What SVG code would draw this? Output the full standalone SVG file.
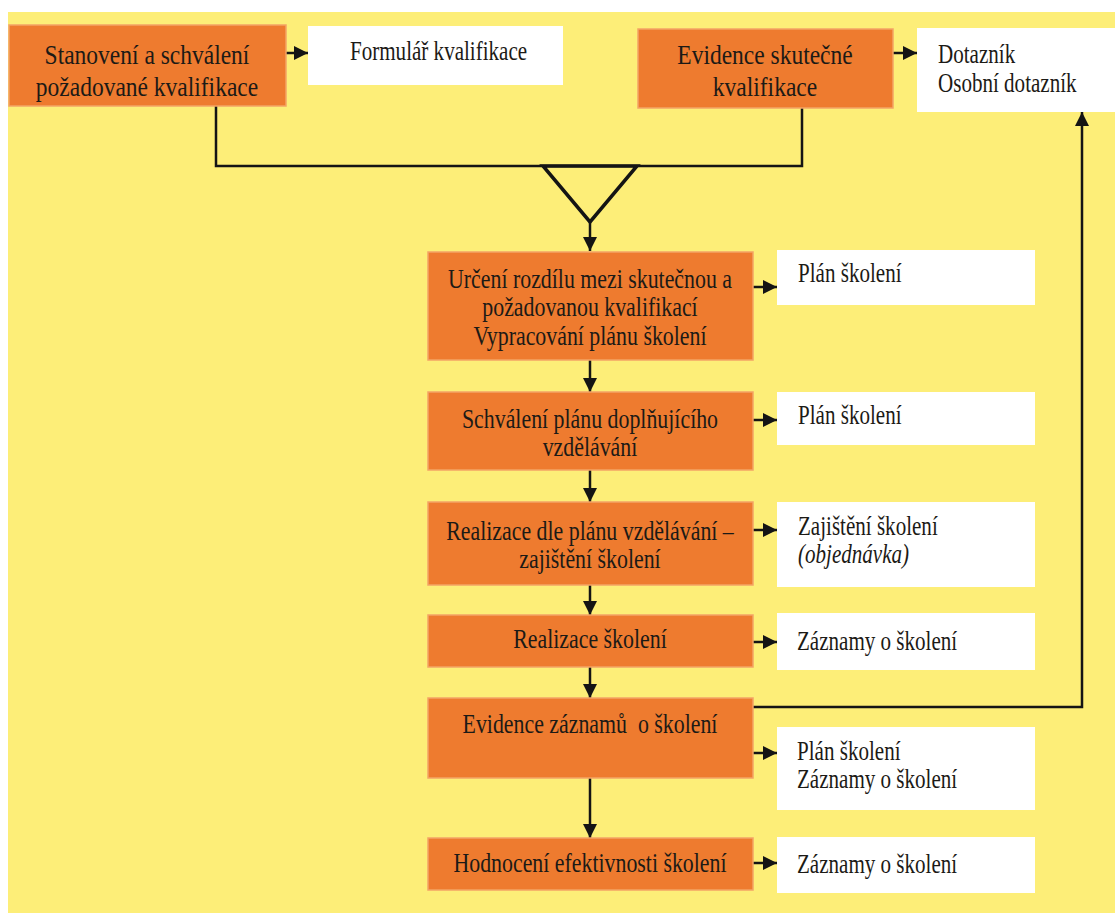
<svg xmlns="http://www.w3.org/2000/svg" width="1115" height="913" viewBox="0 0 1115 913">
<style>
.bg{fill:#FDEE78}
.ob{fill:#EE7B2F;stroke:#F3A465;stroke-width:1.5}
.wb{fill:#FFFFFF}
.t{font-family:"Liberation Serif","Times New Roman",serif;font-size:27px;fill:#1c1a16}
.tc{text-anchor:middle}
.ln{fill:none;stroke:#141414;stroke-width:2.5}
.tri{fill:none;stroke:#141414;stroke-width:3.5;stroke-linejoin:miter}
</style>
<defs>
<marker id="ah" viewBox="0 0 14 14" refX="14" refY="7" markerWidth="14" markerHeight="14" markerUnits="userSpaceOnUse" orient="auto">
<path d="M0,0 L14,7 L0,14 Z" fill="#141414"/>
</marker>
</defs>
<rect x="0" y="0" width="1115" height="913" fill="#FFFFFF"/>
<rect class="bg" x="8" y="12" width="1107" height="901"/>

<g id="connectors">
<path class="ln" d="M216,106 V166 H802 V108"/>
<polygon class="tri" points="543,166 637,166 590,222"/>
<line class="ln" x1="590" y1="222" x2="590" y2="251" marker-end="url(#ah)"/>
<line class="ln" x1="286" y1="53" x2="308" y2="53" marker-end="url(#ah)"/>
<line class="ln" x1="893" y1="53" x2="917" y2="53" marker-end="url(#ah)"/>
<line class="ln" x1="753" y1="287" x2="777" y2="287" marker-end="url(#ah)"/>
<line class="ln" x1="753" y1="420" x2="777" y2="420" marker-end="url(#ah)"/>
<line class="ln" x1="753" y1="530" x2="777" y2="530" marker-end="url(#ah)"/>
<line class="ln" x1="753" y1="642" x2="777" y2="642" marker-end="url(#ah)"/>
<line class="ln" x1="753" y1="753" x2="777" y2="753" marker-end="url(#ah)"/>
<line class="ln" x1="753" y1="863" x2="777" y2="863" marker-end="url(#ah)"/>
<line class="ln" x1="590" y1="360" x2="590" y2="392" marker-end="url(#ah)"/>
<line class="ln" x1="590" y1="470" x2="590" y2="502" marker-end="url(#ah)"/>
<line class="ln" x1="590" y1="585" x2="590" y2="615" marker-end="url(#ah)"/>
<line class="ln" x1="590" y1="667" x2="590" y2="698" marker-end="url(#ah)"/>
<line class="ln" x1="590" y1="778" x2="590" y2="838" marker-end="url(#ah)"/>
<path class="ln" d="M753,707 H1082 V112" marker-end="url(#ah)"/>
</g>

<g id="n-stanoveni">
<rect class="ob" x="9" y="25" width="277" height="81"/>
<text class="t tc" transform="translate(147,64) scale(0.87,1)">Stanovení a schválení</text>
<text class="t tc" transform="translate(147,96) scale(0.87,1)">požadované kvalifikace</text>
</g>
<g id="n-formular">
<rect class="wb" x="308" y="26" width="255" height="59"/>
<text class="t" transform="translate(350,60) scale(0.78,1)">Formulář kvalifikace</text>
</g>
<g id="n-evidence-skut">
<rect class="ob" x="638" y="29" width="255" height="79"/>
<text class="t tc" transform="translate(765,64) scale(0.87,1)">Evidence skutečné</text>
<text class="t tc" transform="translate(765,96) scale(0.87,1)">kvalifikace</text>
</g>
<g id="n-dotaznik">
<rect class="wb" x="917" y="28" width="198" height="84"/>
<text class="t" transform="translate(938,63) scale(0.78,1)">Dotazník</text>
<text class="t" transform="translate(938,92) scale(0.78,1)">Osobní dotazník</text>
</g>

<g id="n-urceni">
<rect class="ob" x="428" y="252" width="325" height="108"/>
<text class="t tc" transform="translate(590,288) scale(0.81,1)">Určení rozdílu mezi skutečnou a</text>
<text class="t tc" transform="translate(590,316) scale(0.81,1)">požadovanou kvalifikací</text>
<text class="t tc" transform="translate(590,345) scale(0.81,1)">Vypracování plánu školení</text>
</g>
<g id="w-plan1">
<rect class="wb" x="777" y="250" width="258" height="55"/>
<text class="t" transform="translate(798,282) scale(0.78,1)">Plán školení</text>
</g>

<g id="n-schvaleni">
<rect class="ob" x="428" y="392" width="325" height="78"/>
<text class="t tc" transform="translate(590,428) scale(0.81,1)">Schválení plánu doplňujícího</text>
<text class="t tc" transform="translate(590,456) scale(0.81,1)">vzdělávání</text>
</g>
<g id="w-plan2">
<rect class="wb" x="777" y="392" width="258" height="53"/>
<text class="t" transform="translate(798,424) scale(0.78,1)">Plán školení</text>
</g>

<g id="n-realizace-dle">
<rect class="ob" x="428" y="502" width="325" height="83"/>
<text class="t tc" transform="translate(590,540) scale(0.81,1)">Realizace dle plánu vzdělávání –</text>
<text class="t tc" transform="translate(590,568) scale(0.81,1)">zajištění školení</text>
</g>
<g id="w-zajisteni">
<rect class="wb" x="777" y="502" width="258" height="85"/>
<text class="t" transform="translate(798,535) scale(0.78,1)">Zajištění školení</text>
<text class="t" font-style="italic" transform="translate(798,563) scale(0.78,1)">(objednávka)</text>
</g>

<g id="n-realizace-skoleni">
<rect class="ob" x="428" y="615" width="325" height="52"/>
<text class="t tc" transform="translate(590,648) scale(0.81,1)">Realizace školení</text>
</g>
<g id="w-zaznamy1">
<rect class="wb" x="777" y="613" width="258" height="57"/>
<text class="t" transform="translate(797,650) scale(0.78,1)">Záznamy o školení</text>
</g>

<g id="n-evidence-zaznamu">
<rect class="ob" x="428" y="698" width="325" height="80"/>
<text class="t tc" xml:space="preserve" transform="translate(590,733) scale(0.81,1)">Evidence záznamů  o školení</text>
</g>
<g id="w-plan-zaznamy">
<rect class="wb" x="777" y="727" width="258" height="83"/>
<text class="t" transform="translate(797,760) scale(0.78,1)">Plán školení</text>
<text class="t" transform="translate(797,788) scale(0.78,1)">Záznamy o školení</text>
</g>

<g id="n-hodnoceni">
<rect class="ob" x="428" y="838" width="325" height="52"/>
<text class="t tc" transform="translate(590,872) scale(0.81,1)">Hodnocení efektivnosti školení</text>
</g>
<g id="w-zaznamy2">
<rect class="wb" x="777" y="837" width="258" height="56"/>
<text class="t" transform="translate(797,873) scale(0.78,1)">Záznamy o školení</text>
</g>
</svg>
